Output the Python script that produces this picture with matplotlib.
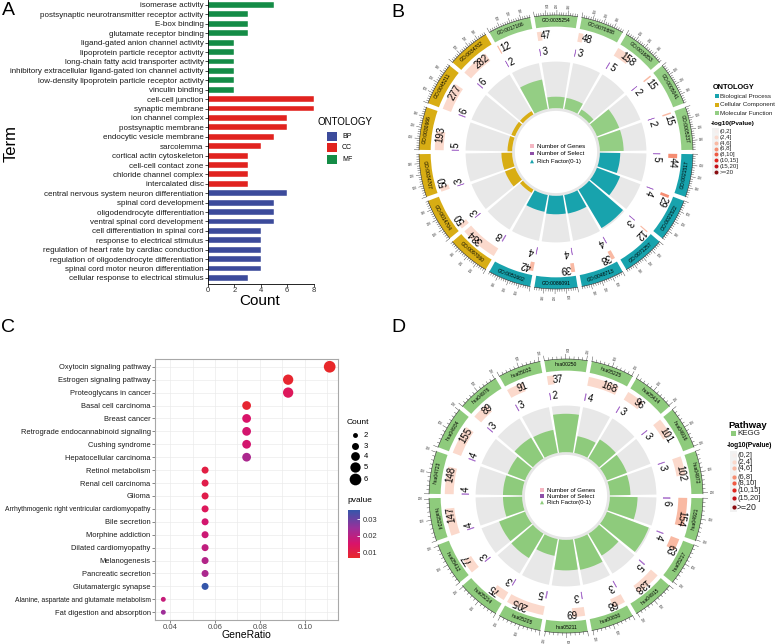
import numpy as np
import matplotlib
matplotlib.use("Agg")
import matplotlib.pyplot as plt
from matplotlib.patches import Wedge, Rectangle, Polygon
from matplotlib.colors import LinearSegmentedColormap, Normalize
from matplotlib.cm import ScalarMappable

plt.rcParams['font.family'] = ['Liberation Sans', 'DejaVu Sans']

# ---- panel A: enriched GO terms, top to bottom ----
a_terms = [
    "isomerase activity", "postsynaptic neurotransmitter receptor activity",
    "E-box binding", "glutamate receptor binding",
    "ligand-gated anion channel activity", "lipoprotein particle receptor activity",
    "long-chain fatty acid transporter activity",
    "inhibitory extracellular ligand-gated ion channel activity",
    "low-density lipoprotein particle receptor activity", "vinculin binding",
    "cell-cell junction", "synaptic membrane", "ion channel complex",
    "postsynaptic membrane", "endocytic vesicle membrane", "sarcolemma",
    "cortical actin cytoskeleton", "cell-cell contact zone",
    "chloride channel complex", "intercalated disc",
    "central nervous system neuron differentiation", "spinal cord development",
    "oligodendrocyte differentiation", "ventral spinal cord development",
    "cell differentiation in spinal cord", "response to electrical stimulus",
    "regulation of heart rate by cardiac conduction",
    "regulation of oligodendrocyte differentiation",
    "spinal cord motor neuron differentiation",
    "cellular response to electrical stimulus",
]
a_counts = [5, 3, 3, 3, 2, 2, 2, 2, 2, 2,
            8, 8, 6, 6, 5, 4, 3, 3, 3, 3,
            6, 5, 5, 5, 4, 4, 4, 4, 4, 3]
a_onto = ["MF"] * 10 + ["CC"] * 10 + ["BP"] * 10
a_colors = {"BP": "#3C4B9B", "CC": "#E1231F", "MF": "#148C46"}

# ---- panel B: GO circle, clockwise from 3 o'clock ----
b_ids = ["GO:0021517", "GO:0021522", "GO:0071257", "GO:0048713", "GO:0086091",
         "GO:0051602", "GO:0097060", "GO:0014704", "GO:0034707", "GO:0030666",
         "GO:0045211", "GO:0034702", "GO:0017166", "GO:0035254", "GO:0070888",
         "GO:0016853", "GO:0005041", "GO:0005237"]
b_onto = ["BP", "BP", "BP", "BP", "BP", "BP", "CC", "CC", "CC", "CC", "CC", "CC",
          "MF", "MF", "MF", "MF", "MF", "MF"]
b_genes = [44, 29, 12, 38, 39, 42, 384, 50, 50, 193, 277, 282, 12, 47, 48, 158, 15, 15]
b_select = [5, 4, 3, 4, 4, 4, 8, 3, 3, 5, 6, 6, 2, 3, 3, 5, 2, 2]
b_rich = [0.114, 0.138, 0.250, 0.105, 0.103, 0.095, 0.021, 0.060, 0.060, 0.026,
          0.022, 0.021, 0.167, 0.064, 0.063, 0.032, 0.133, 0.133]
b_logp = ["(6,8]", "(6,8]", "(4,6]", "(4,6]", "(4,6]", "(4,6]", "(2,4]", "(2,4]",
          "(2,4]", "(2,4]", "(2,4]", "(2,4]", "(4,6]", "(2,4]", "(2,4]", "(2,4]",
          "(4,6]", "(4,6]"]
b_colors = {"BP": "#18A3AD", "CC": "#D8AD14", "MF": "#94CE84"}
b_names = {"BP": "Biological Process", "CC": "Cellular Component",
           "MF": "Molecular Function"}

# ---- panel C: KEGG dot plot, top to bottom ----
c_pathways = [
    "Oxytocin signaling pathway", "Estrogen signaling pathway",
    "Proteoglycans in cancer", "Basal cell carcinoma", "Breast cancer",
    "Retrograde endocannabinoid signaling", "Cushing syndrome",
    "Hepatocellular carcinoma", "Retinol metabolism", "Renal cell carcinoma",
    "Glioma", "Arrhythmogenic right ventricular cardiomyopathy", "Bile secretion",
    "Morphine addiction", "Dilated cardiomyopathy", "Melanogenesis",
    "Pancreatic secretion", "Glutamatergic synapse",
    "Alanine, aspartate and glutamate metabolism", "Fat digestion and absorption",
]
c_ratio = [0.1111, 0.0926, 0.0926, 0.0741, 0.0741, 0.0741, 0.0741, 0.0741,
           0.0556, 0.0556, 0.0556, 0.0556, 0.0556, 0.0556, 0.0556, 0.0556,
           0.0556, 0.0556, 0.0370, 0.0370]
c_count = [6, 5, 5, 4, 4, 4, 4, 4, 3, 3, 3, 3, 3, 3, 3, 3, 3, 3, 2, 2]
c_pvalue = [0.0065, 0.0072, 0.013, 0.0075, 0.015, 0.016, 0.016, 0.022, 0.010,
            0.011, 0.011, 0.013, 0.016, 0.017, 0.019, 0.021, 0.022, 0.0355,
            0.018, 0.024]

# ---- panel D: KEGG circle, clockwise from 3 o'clock ----
d_ids = ["hsa04921", "hsa05217", "hsa04915", "hsa00830", "hsa05211", "hsa05205",
         "hsa05214", "hsa05412", "hsa05224", "hsa04723", "hsa04934", "hsa04976",
         "hsa05032", "hsa00250", "hsa05225", "hsa05414", "hsa04916", "hsa04972"]
d_genes = [154, 63, 138, 68, 69, 205, 75, 77, 147, 148, 155, 89, 91, 37, 168, 96, 101, 102]
d_select = [6, 4, 5, 3, 3, 5, 3, 3, 4, 4, 4, 3, 3, 2, 4, 3, 3, 3]
d_rich = [0.039, 0.063, 0.036, 0.044, 0.043, 0.024, 0.040, 0.039, 0.027, 0.027,
          0.026, 0.034, 0.033, 0.054, 0.024, 0.031, 0.030, 0.029]
d_logp = ["(4,6]", "(4,6]", "(2,4]", "(2,4]", "(2,4]", "(2,4]", "(2,4]", "(2,4]",
          "(2,4]", "(2,4]", "(2,4]", "(2,4]", "(2,4]", "(2,4]", "(2,4]", "(2,4]",
          "(2,4]", "(2,4]"]
kegg_color = "#8ECB7C"

logp_bins = ["(0,2]", "(2,4]", "(4,6]", "(6,8]", "(8,10]", "(10,15]", "(15,20]", ">=20"]
logp_colors = ["#F6EEEC", "#FBD9CC", "#F9B9A3", "#F58D72", "#EF5A43", "#E0251E",
               "#C41119", "#8A0C10"]
logp_map = dict(zip(logp_bins, logp_colors))

W, H = 777, 644
fig = plt.figure(figsize=(W / 100, H / 100), dpi=100)


def px_box(x0, y0, x1, y1):
    return [x0 / W, 1 - y1 / H, (x1 - x0) / W, (y1 - y0) / H]


def norm_angle(a):
    return (a + 180.0) % 360.0 - 180.0


# ================= A =================
ax = fig.add_axes(px_box(208, 0, 313.5, 283.6))
n = len(a_terms)
ypos = np.arange(n)[::-1]
ax.barh(ypos, a_counts, height=0.62, color=[a_colors[o] for o in a_onto],
        edgecolor="white", linewidth=0.3)
ax.set_xlim(0, 8)
ax.set_ylim(-0.6, n - 1 + 0.53)
ax.set_yticks(ypos)
ax.set_yticklabels(a_terms, fontsize=5.8, color="#1a1a1a")
ax.set_xticks([0, 2, 4, 6, 8])
ax.set_xticklabels(["0", "2", "4", "6", "8"], fontsize=5.5, color="#333333")
ax.tick_params(length=2, width=0.5, pad=1.2)
ax.tick_params(axis="x", pad=0.5)
for s in ["top", "right"]:
    ax.spines[s].set_visible(False)
for s in ["left", "bottom"]:
    ax.spines[s].set_linewidth(0.6)

# ================= C =================
cmap = LinearSegmentedColormap.from_list(
    "pv", [(0, "#E8282A"), (0.3, "#D9136A"), (0.62, "#9B2F9A"), (1, "#3556AA")])
pnorm = Normalize(0.0064, 0.0355)


def dot_size(c):
    d = 4.9 + 6.8 * (np.sqrt(c) - np.sqrt(2)) / (np.sqrt(6) - np.sqrt(2))
    return (d * 0.72) ** 2


axc = fig.add_axes(px_box(155, 359, 338, 620))
m = len(c_pathways)
yc = np.arange(m)[::-1]
lo, hi = min(c_ratio), max(c_ratio)
pad = (hi - lo) * 0.05
axc.set_xlim(lo - pad, hi + pad)
axc.set_ylim(-0.6, m - 1 + 0.6)
axc.set_xticks([0.04, 0.06, 0.08, 0.10])
axc.set_xticklabels(["0.04", "0.06", "0.08", "0.10"], fontsize=5.6, color="#4d4d4d")
axc.set_xticks([0.05, 0.07, 0.09, 0.11], minor=True)
axc.set_yticks(yc)
axc.set_yticklabels(c_pathways, fontsize=5.4, color="#1a1a1a")
for lbl in axc.get_yticklabels():
    if len(lbl.get_text()) > 38:
        lbl.set_fontsize(4.85)
axc.tick_params(length=2, width=0.5, pad=1.2, color="#555555")
axc.tick_params(which="minor", length=0)
axc.grid(which="both", color="#EBEBEB", linewidth=0.5)
axc.set_axisbelow(True)
for s in axc.spines.values():
    s.set_color("#A8A8A8")
    s.set_linewidth(0.8)
axc.scatter(c_ratio, yc, s=[dot_size(c) for c in c_count], c=c_pvalue,
            cmap=cmap, norm=pnorm, linewidths=0, zorder=3)

cax = fig.add_axes(px_box(348, 510, 360, 558))
cb = fig.colorbar(ScalarMappable(norm=pnorm, cmap=cmap), cax=cax)
cb.outline.set_visible(False)
cb.set_ticks([0.01, 0.02, 0.03])
cb.ax.set_yticklabels(["0.01", "0.02", "0.03"], fontsize=5.5, color="#333333")
cb.ax.tick_params(length=2, width=0.6, color="white", direction="in", pad=2)


# ================= B / D circles =================
def circos(cx, cy, ids, genes, sel, rich, sec_cols, inner_cols, gene_cols):
    R = 137.0
    hs = 170.0
    axp = fig.add_axes(px_box(cx - hs, cy - hs, cx + hs, cy + hs))
    axp.set_xlim(-hs / R, hs / R)
    axp.set_ylim(-hs / R, hs / R)
    axp.axis("off")
    nsec = len(ids)
    step = 360.0 / nsec
    gap = 1.8
    xmax = max(genes)
    rtop = max(rich) * 1.04
    axp.add_patch(Wedge((0, 0), 0.32, 0, 360, width=0.02, color="#E6E6E6", lw=0))
    for i in range(nsec):
        a0 = -step * i - gap / 2
        a1 = -step * (i + 1) + gap / 2
        span = a0 - a1

        def ang(x):
            return a0 - x / xmax * span

        mid = norm_angle((a0 + a1) / 2)
        rad = np.radians(mid)
        # outer ring with labels and ruler
        axp.add_patch(Wedge((0, 0), 1.0, a1, a0, width=0.085, color=sec_cols[i], lw=0))
        th = np.radians(np.linspace(a1, a0, 40))
        axp.plot(np.cos(th), np.sin(th), color="#333333", lw=0.4)
        rot = mid - 90 if mid > 0 else mid + 90
        axp.text(0.957 * np.cos(rad), 0.957 * np.sin(rad), ids[i], fontsize=3.6,
                 rotation=rot, rotation_mode="anchor", ha="center", va="center")
        for t in range(0, xmax + 1, 20):
            ta = np.radians(ang(t))
            L = 1.035 if t % 100 == 0 else 1.018
            axp.plot([np.cos(ta), L * np.cos(ta)], [np.sin(ta), L * np.sin(ta)],
                     color="#333333", lw=0.3)
            if t % 100 == 0 and t > 0:
                da = norm_angle(ang(t))
                trot = da if -90 <= da <= 90 else da - 180
                axp.text(1.066 * np.cos(ta), 1.066 * np.sin(ta), str(t), fontsize=2.2,
                         rotation=trot, rotation_mode="anchor", ha="center", va="center",
                         color="#333333")
        # number of genes
        axp.add_patch(Wedge((0, 0), 0.885, ang(genes[i]), a0, width=0.065,
                            color=gene_cols[i], lw=0))
        ga = ang(genes[i] / 2 + 0.18 * xmax)
        axp.text(0.853 * np.cos(np.radians(ga)), 0.853 * np.sin(np.radians(ga)),
                 str(genes[i]), fontsize=7, rotation=ga - 90, rotation_mode="anchor",
                 ha="center", va="center")
        # number of select
        axp.add_patch(Wedge((0, 0), 0.76, ang(sel[i]), a0, width=0.05,
                            facecolor="#A86FCB", edgecolor="#A86FCB", lw=0.4))
        sa = ang(sel[i] + 0.15 * xmax)
        axp.text(0.735 * np.cos(np.radians(sa)), 0.735 * np.sin(np.radians(sa)),
                 str(sel[i]), fontsize=7, rotation=sa - 90, rotation_mode="anchor",
                 ha="center", va="center")
        # rich factor
        axp.add_patch(Wedge((0, 0), 0.66, a1, a0, width=0.34, color="#E8E8E8", lw=0))
        h = 0.34 * rich[i] / rtop
        axp.add_patch(Wedge((0, 0), 0.32 + h, a1, a0, width=h, color=inner_cols[i], lw=0))
    return axp


circos(556, 152, b_ids, b_genes, b_select, b_rich,
       [b_colors[o] for o in b_onto], [b_colors[o] for o in b_onto],
       [logp_map[b] for b in b_logp])
circos(566, 496, d_ids, d_genes, d_select, d_rich,
       [kegg_color] * len(d_ids), [kegg_color] * len(d_ids),
       [logp_map[b] for b in d_logp])

# ================= overlay: letters, titles, legends =================
ov = fig.add_axes([0, 0, 1, 1], zorder=10)
ov.set_xlim(0, W)
ov.set_ylim(H, 0)
ov.axis("off")
ov.patch.set_alpha(0)

for lab, x, y in [("A", 8, 10), ("B", 398, 12), ("C", 8, 327), ("D", 398, 327)]:
    ov.text(x, y, lab, fontsize=14, ha="center", va="center")

ov.text(260, 301, "Count", fontsize=11, ha="center", va="center")
ov.text(11, 143, "Term", fontsize=12, rotation=90, ha="center", va="center")

# legend A
ov.text(318, 122, "ONTOLOGY", fontsize=7, ha="left", va="center")
for o, y in zip(["BP", "CC", "MF"], [136, 147.5, 159]):
    ov.add_patch(Rectangle((327, y - 4.5), 9.5, 9, color=a_colors[o], lw=0))
    ov.text(342, y, o, fontsize=5, ha="left", va="center")

# legend C
ov.text(347, 422, "Count", fontsize=6, ha="left", va="center")
for c, y in zip([2, 3, 4, 5, 6], [435, 446, 456, 467, 479]):
    ov.scatter([355], [y], s=dot_size(c), color="black", linewidths=0)
    ov.text(364, y, str(c), fontsize=5.5, ha="left", va="center")
ov.text(347, 500, "pvalue", fontsize=6, ha="left", va="center")
ov.text(246, 635, "GeneRatio", fontsize=7.5, ha="center", va="center")


def center_legend(cx, cy, dys, tri_col):
    kx = cx - 24
    items = ["Number of Genes", "Number of Select", "Rich Factor(0-1)"]
    for j, (txt, dy) in enumerate(zip(items, dys)):
        y = cy + dy
        if j == 0:
            ov.add_patch(Rectangle((kx - 1.8, y - 1.8), 3.6, 3.6, color="#F4B6C2", lw=0))
        elif j == 1:
            ov.add_patch(Rectangle((kx - 1.8, y - 1.8), 3.6, 3.6, color="#8E4FA8", lw=0))
        else:
            ov.add_patch(Polygon([(kx - 2, y + 1.8), (kx + 2, y + 1.8), (kx, y - 2)],
                                 color=tri_col, lw=0))
        ov.text(kx + 5, y, txt, fontsize=4.4, ha="left", va="center")


center_legend(556, 152, [-6, 1.5, 9.5], b_colors["BP"])
center_legend(566, 496, [-6, 0, 6.5], kegg_color)

# legend B
ov.text(713, 87, "ONTOLOGY", fontsize=5.3, fontweight="bold", ha="left", va="center")
for o, y in zip(["BP", "CC", "MF"], [96, 104.7, 113]):
    ov.add_patch(Rectangle((715, y - 2), 4, 4, color=b_colors[o], lw=0))
    ov.text(720.5, y, b_names[o], fontsize=4.5, ha="left", va="center", color="#222222")
ov.text(711, 123, "-log10(Pvalue)", fontsize=4.6, fontweight="bold", ha="left", va="center")
ov.add_patch(Rectangle((712, 128), 7, 47, color="#F2F2F2", lw=0))
for b, col, y in zip(logp_bins, logp_colors, [131, 137, 143, 148.5, 154, 160, 166, 172]):
    ov.scatter([715.5], [y], s=8, color=col, linewidths=0)
    ov.text(720, y, b, fontsize=4.4, ha="left", va="center", color="#222222")

# legend D
ov.text(728, 425, "Pathway", fontsize=6.8, fontweight="bold", ha="left", va="center")
ov.add_patch(Rectangle((730.5, 430.5), 5, 5, color=kegg_color, lw=0))
ov.text(737, 433, "KEGG", fontsize=5.8, ha="left", va="center", color="#222222")
ov.text(727, 445, "-log10(Pvalue)", fontsize=4.8, fontweight="bold", ha="left", va="center")
ov.add_patch(Rectangle((730, 451), 7, 61, color="#F2F2F2", lw=0))
for b, col, y in zip(logp_bins, logp_colors, [455, 462, 468, 477, 483, 490, 498, 507]):
    ov.scatter([733.5], [y], s=9, color=col, linewidths=0)
    ov.text(737, y, b, fontsize=6.3 if b == ">=20" else 5.4, ha="left", va="center",
            color="#222222")

fig.savefig("out.png", dpi=100)
